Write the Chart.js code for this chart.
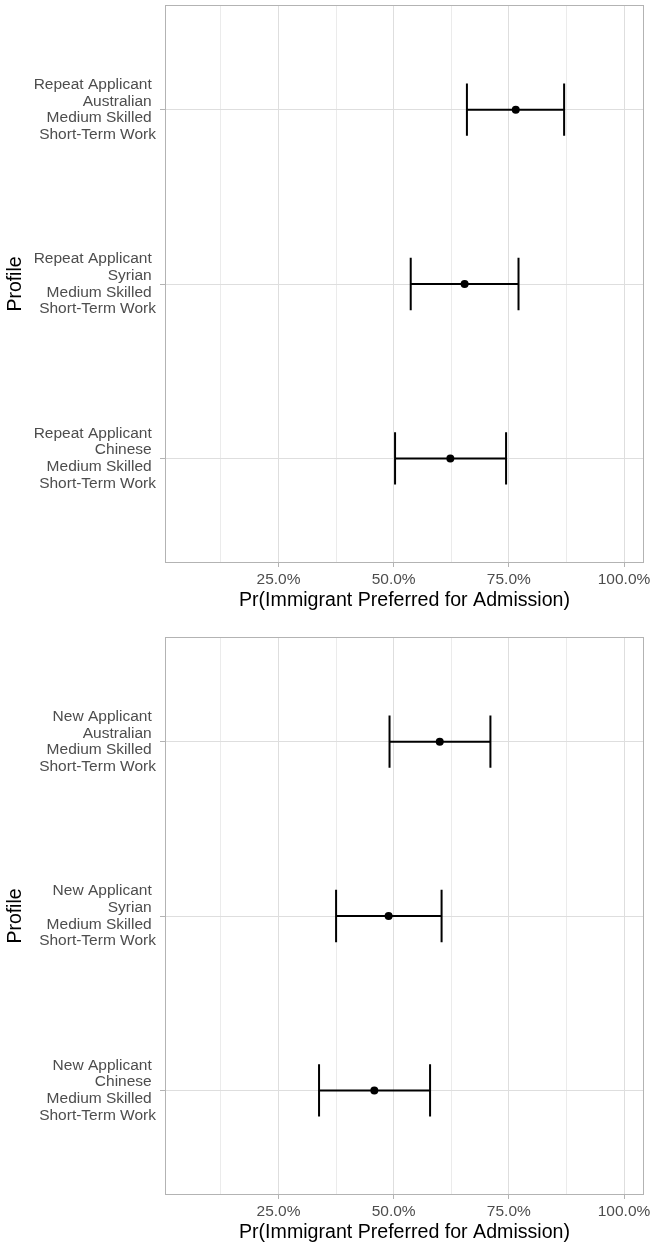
<!DOCTYPE html>
<html>
<head>
<meta charset="utf-8">
<script src="https://cdn.jsdelivr.net/npm/chart.js@4.4.1/dist/chart.umd.min.js"></script>
<style>
  html, body { margin:0; padding:0; background:#fff; }
  #wrap { position:relative; width:652px; height:1242px; overflow:hidden; background:#fff; }
  canvas { position:absolute; left:0; }
  #c1 { top:0; }
  #c2 { top:632px; }
</style>
</head>
<body>
<div id="wrap">
  <canvas id="c1" width="652" height="632"></canvas>
  <canvas id="c2" width="652" height="632"></canvas>
</div>
<script>
// ---------- data ----------
const topProfiles = [
  ["Repeat Applicant ", "Australian ", "Medium Skilled ", "Short-Term Work"],
  ["Repeat Applicant ", "Syrian ", "Medium Skilled ", "Short-Term Work"],
  ["Repeat Applicant ", "Chinese ", "Medium Skilled ", "Short-Term Work"]
];
const topEstimate = [76.5, 65.4, 62.3];
const topLower    = [65.9, 53.7, 50.3];
const topUpper    = [87.0, 77.1, 74.4];

const bottomProfiles = [
  ["New Applicant ", "Australian ", "Medium Skilled ", "Short-Term Work"],
  ["New Applicant ", "Syrian ", "Medium Skilled ", "Short-Term Work"],
  ["New Applicant ", "Chinese ", "Medium Skilled ", "Short-Term Work"]
];
const bottomEstimate = [60.0, 48.9, 45.8];
const bottomLower    = [49.1, 37.5, 33.8];
const bottomUpper    = [71.0, 60.4, 57.9];

const xGridValues  = [12.5, 25, 37.5, 50, 62.5, 75, 87.5, 100];
const xLabelValues = [25, 50, 75, 100];
const xTitle = "Pr(Immigrant Preferred for Admission)";
const yTitle = "Profile";

// ---------- drawing ----------
const FONT = "'Liberation Sans', Arial, Helvetica, sans-serif";
const CAP = 0.15;

const panelBorder = {
  id: 'panelBorder',
  afterDraw(chart) {
    const a = chart.chartArea, ctx = chart.ctx;
    ctx.save();
    ctx.strokeStyle = '#b3b3b3';
    ctx.lineWidth = 1;
    const l = Math.round(a.left) + 0.5, t = Math.round(a.top) + 0.5;
    const r = Math.round(a.right) - 0.5, b = Math.round(a.bottom) - 0.5;
    ctx.strokeRect(l, t, r - l, b - t);
    ctx.restore();
  }
};

function makePanel(id, profiles, est, lo, hi) {
  const datasets = [];
  profiles.forEach((p, i) => {
    const y = i + 1;
    const line = { type: 'line', borderColor: '#000', borderWidth: 2, pointRadius: 0,
                   borderCapStyle: 'butt', fill: false, showLine: true, tension: 0 };
    datasets.push(Object.assign({}, line, { data: [{x: lo[i], y: y}, {x: hi[i], y: y}] }));
    datasets.push(Object.assign({}, line, { data: [{x: lo[i], y: y - CAP}, {x: lo[i], y: y + CAP}] }));
    datasets.push(Object.assign({}, line, { data: [{x: hi[i], y: y - CAP}, {x: hi[i], y: y + CAP}] }));
  });
  datasets.push({
    type: 'scatter',
    data: est.map((v, i) => ({x: v, y: i + 1})),
    pointRadius: 4, pointHoverRadius: 4,
    backgroundColor: '#000', borderWidth: 0
  });

  const isMajor = ctx => ctx.tick && xLabelValues.includes(ctx.tick.value);

  return new Chart(document.getElementById(id), {
    type: 'scatter',
    data: { datasets },
    plugins: [panelBorder],
    options: {
      responsive: false,
      animation: false,
      devicePixelRatio: 1,
      layout: { padding: { left: 0, right: 8, top: 5, bottom: 0 } },
      plugins: { legend: { display: false }, tooltip: { enabled: false } },
      scales: {
        x: {
          type: 'linear', min: 0.36, max: 104.34,
          afterBuildTicks: s => { s.ticks = xGridValues.map(v => ({value: v})); },
          afterFit: s => { s.height = 69; s.paddingLeft = 0; s.paddingRight = 0; },
          border: { display: false },
          grid: {
            color: ctx => isMajor(ctx) ? '#dedede' : '#ebebeb',
            lineWidth: 1,
            drawTicks: true, tickLength: 4,
            tickColor: ctx => isMajor(ctx) ? '#b3b3b3' : 'rgba(0,0,0,0)'
          },
          ticks: {
            autoSkip: false, maxRotation: 0, minRotation: 0, padding: 3,
            color: '#4d4d4d', font: { family: FONT, size: 15.5 },
            callback: v => xLabelValues.includes(v) ? v.toFixed(1) + '%' : ''
          },
          title: {
            display: true, text: xTitle, color: '#000',
            font: { family: FONT, size: 19.6 },
            padding: { top: 0, bottom: 20 }
          }
        },
        y: {
          type: 'linear', min: 0.4, max: 3.6, reverse: true,
          afterBuildTicks: s => { s.ticks = profiles.map((p, i) => ({value: i + 1})); },
          afterFit: s => { s.width = 165; s.paddingTop = 0; s.paddingBottom = 0; },
          border: { display: false },
          grid: { color: '#dedede', lineWidth: 1, drawTicks: true, tickLength: 5, tickColor: '#b3b3b3' },
          ticks: {
            autoSkip: false, padding: 4, color: '#4d4d4d',
            font: { family: FONT, size: 15.5, lineHeight: '16.7px' },
            callback: v => profiles[Math.round(v) - 1]
          },
          title: {
            display: true, text: yTitle, color: '#000',
            font: { family: FONT, size: 19.4 },
            padding: { top: 4.5, bottom: 0 }
          }
        }
      }
    }
  });
}

makePanel('c1', topProfiles, topEstimate, topLower, topUpper);
makePanel('c2', bottomProfiles, bottomEstimate, bottomLower, bottomUpper);
</script>
</body>
</html>
